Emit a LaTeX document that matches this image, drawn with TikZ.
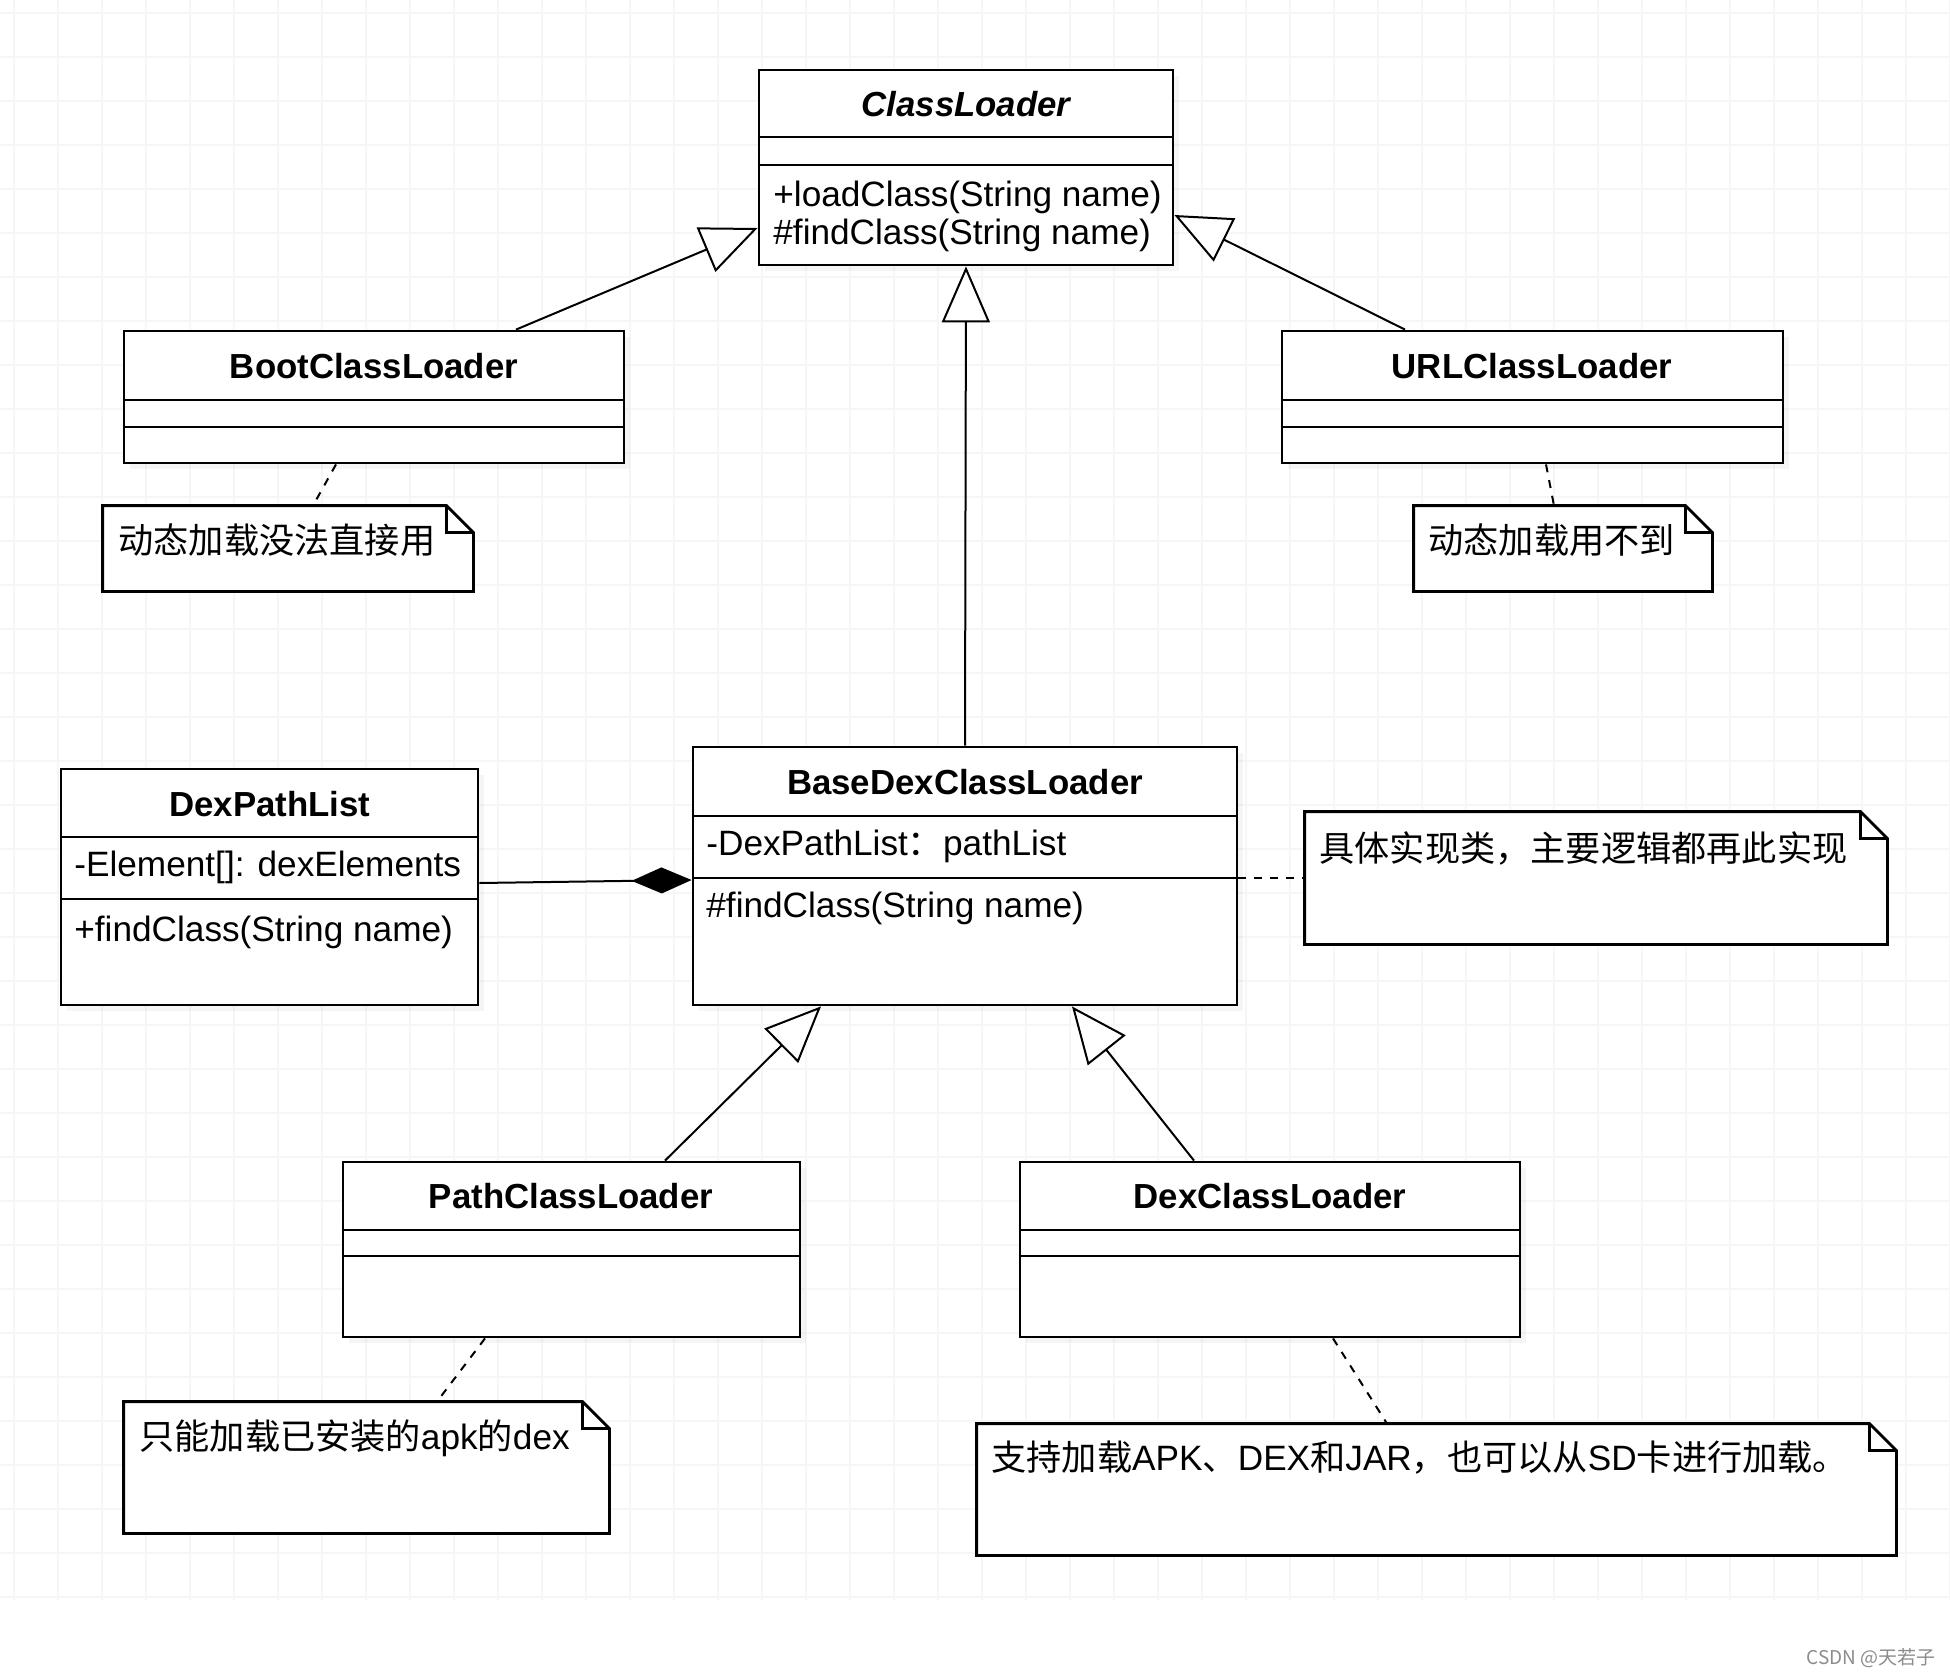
\documentclass[tikz,border=0pt]{standalone}
\usepackage{fontspec}
\setmainfont{Liberation Sans}
\newfontfamily\cjk{Noto Sans CJK SC}
\usetikzlibrary{arrows.meta,fit,shadows}
\newcommand{\drawnote}[1]{%
  \draw[notepath, fill=white] (#1.south west) -- (#1.north west) -- ([xshift=-13.5pt]#1.north east) -- ([yshift=-13.5pt]#1.north east) -- (#1.south east) -- cycle;
  \draw[notepath] ([xshift=-13.5pt]#1.north east) -- ([xshift=-13.5pt,yshift=-13.5pt]#1.north east) -- ([yshift=-13.5pt]#1.north east);}
\begin{document}
\begin{tikzpicture}[x=0.5pt,y=-0.5pt,
  box/.style={draw, line width=1.4pt, fill=white, inner sep=0pt,
    drop shadow={shadow xshift=3pt, shadow yshift=-3pt, opacity=0.08}},
  area/.style={inner sep=0pt},
  cline/.style={line width=1.4pt},
  notepath/.style={line width=1.4pt, line join=miter},
  hdr/.style={font=\bfseries\fontsize{17.4}{20}\selectfont, inner sep=0pt},
  mem/.style={font=\fontsize{17.6}{20}\selectfont, inner sep=0pt, anchor=west},
  ntext/.style={font=\fontsize{17.6}{20}\selectfont, inner sep=0pt, anchor=west},
  gen/.style={line width=1pt, -{Triangle[open, length=28pt, width=24pt, line width=1pt, fill=white]}},
  comp/.style={line width=1pt, -{Diamond[length=30pt, width=13pt]}},
  notelink/.style={line width=1pt, dash pattern=on 4pt off 4pt},
  gridline/.style={black!3.5, line width=0.6pt}
]
\fill[white] (0,0) rectangle (1950,1676);
\useasboundingbox (0,0) rectangle (1950,1676);
% faint grid
\foreach \gx in {14,58,...,1950} \draw[gridline] (\gx,0) -- (\gx,1600);
\foreach \gy in {13,57,...,1600} \draw[gridline] (0,\gy) -- (1950,\gy);

% ClassLoader
\node[box, fit={(759,70) (1173,265)}] (cl) {};
\draw[cline] (cl.west |- 0,137) -- (cl.east |- 0,137);
\draw[cline] (cl.west |- 0,165) -- (cl.east |- 0,165);
\node[hdr, font=\bfseries\itshape\fontsize{17.4}{20}\selectfont] (clh) at (966,104) {ClassLoader};
\node[mem] (clm1) at (773,197) {+loadClass(String name)};
\node[mem] (clm2) at (773,235) {\#findClass(String name)};

% BootClassLoader
\node[box, fit={(124,331) (624,463)}] (boot) {};
\draw[cline] (boot.west |- 0,400) -- (boot.east |- 0,400);
\draw[cline] (boot.west |- 0,427) -- (boot.east |- 0,427);
\node[hdr] (booth) at (374,366) {BootClassLoader};

% URLClassLoader
\node[box, fit={(1282,331) (1783,463)}] (url) {};
\draw[cline] (url.west |- 0,400) -- (url.east |- 0,400);
\draw[cline] (url.west |- 0,427) -- (url.east |- 0,427);
\node[hdr] (urlh) at (1532,366) {URLClassLoader};

% BaseDexClassLoader
\node[box, fit={(693,747) (1237,1005)}] (bdcl) {};
\draw[cline] (bdcl.west |- 0,816) -- (bdcl.east |- 0,816);
\draw[cline] (bdcl.west |- 0,878) -- (bdcl.east |- 0,878);
\node[hdr] (bdclh) at (965,782) {BaseDexClassLoader};
\node[mem] (bdclm1) at (706,846) {-DexPathList{\cjk ：}pathList};
\node[mem] (bdclm2) at (706,908) {\#findClass(String name)};

% DexPathList
\node[box, fit={(61,769) (478,1005)}] (dpl) {};
\draw[cline] (dpl.west |- 0,837) -- (dpl.east |- 0,837);
\draw[cline] (dpl.west |- 0,899) -- (dpl.east |- 0,899);
\node[hdr] (dplh) at (270,804) {DexPathList};
\node[mem] (dplm1) at (74,867) {-Element[]: dexElements};
\node[mem] (dplm2) at (74,932) {+findClass(String name)};

% PathClassLoader
\node[box, fit={(343,1162) (800,1337)}] (path) {};
\draw[cline] (path.west |- 0,1230) -- (path.east |- 0,1230);
\draw[cline] (path.west |- 0,1256) -- (path.east |- 0,1256);
\node[hdr] (pathh) at (571,1196) {PathClassLoader};

% DexClassLoader
\node[box, fit={(1020,1162) (1520,1337)}] (dex) {};
\draw[cline] (dex.west |- 0,1230) -- (dex.east |- 0,1230);
\draw[cline] (dex.west |- 0,1256) -- (dex.east |- 0,1256);
\node[hdr] (dexh) at (1270,1196) {DexClassLoader};

% Notes
\node[area, fit={(103,506) (473,591)}] (n1) {};
\drawnote{n1}
\node[ntext] (n1t) at (118,540) {\cjk 动态加载没法直接用};

\node[area, fit={(1414,506) (1712,591)}] (n2) {};
\drawnote{n2}
\node[ntext] (n2t) at (1428,540) {\cjk 动态加载用不到};

\node[area, fit={(1305,812) (1887,944)}] (n3) {};
\drawnote{n3}
\node[ntext] (n3t) at (1319,848) {\cjk 具体实现类，主要逻辑都再此实现};

\node[area, fit={(124,1402) (609,1533)}] (n4) {};
\drawnote{n4}
\node[ntext] (n4t) at (139,1438) {{\cjk 只能加载已安装的}apk{\cjk 的}dex};

\node[area, fit={(977,1424) (1896,1555)}] (n5) {};
\drawnote{n5}
\node[ntext] (n5t) at (991,1458) {{\cjk 支持加载}APK{\cjk 、}DEX{\cjk 和}JAR{\cjk ，也可以从}SD{\cjk 卡进行加载。}};

% Generalizations
\draw[gen] (bdcl.north) -- (cl.south);
\draw[gen] (boot.north -| 516,0) -- (cl.west |- 0,228);
\draw[gen] (url.north -| 1405,0) -- (cl.east |- 0,215);
\draw[gen] (path.north -| 665,0) -- (bdcl.south -| 821,0);
\draw[gen] (dex.north -| 1194,0) -- (bdcl.south -| 1072,0);

% Composition
\draw[comp] (dpl.east |- 0,883) -- (bdcl.west |- 0,880);

% Note links
\draw[notelink] (boot.south -| 336,0) -- (n1.north -| 313,0);
\draw[notelink] (url.south -| 1546,0) -- (n2.north -| 1554,0);
\draw[notelink] (bdcl.east |- 0,878) -- (n3.west |- 0,878);
\draw[notelink] (path.south -| 485,0) -- (n4.north -| 437,0);
\draw[notelink] (dex.south -| 1333,0) -- (n5.north -| 1387,0);

% watermark
\node[anchor=east, font=\cjk\fontsize{9.5}{11}\selectfont, text=black!45, inner sep=0pt] (wm) at (1936,1658) {CSDN @天若子};
\end{tikzpicture}
\end{document}
